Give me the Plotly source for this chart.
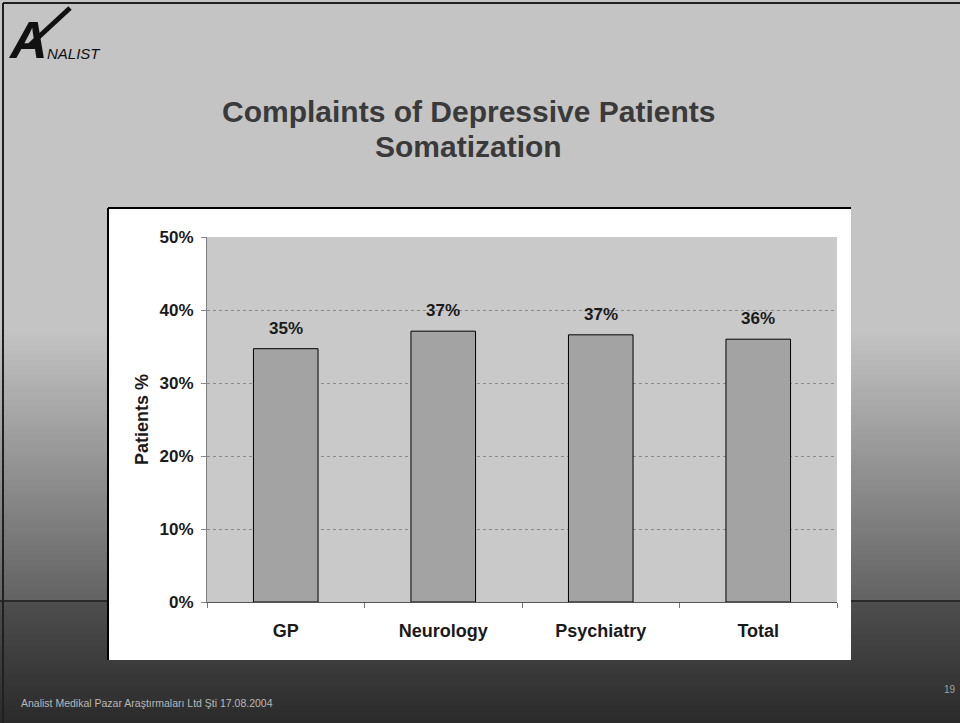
import plotly.graph_objects as go

categories = ["GP", "Neurology", "Psychiatry", "Total"]
patients_pct = [34.7, 37.1, 36.6, 36.0]
y_ticks = [0, 10, 20, 30, 40, 50]
y_tick_labels = ["0%", "10%", "20%", "30%", "40%", "50%"]

title_lines = ["Complaints of Depressive Patients", "Somatization"]
y_title = "Patients %"
footer = "Analist Medikal Pazar Araştırmaları Ltd Şti 17.08.2004"
page_no = "19"

# plot area in pixels
L, R, T, B = 207, 837, 237, 602
W, H = R - L, B - T
FONT = "Arial, Liberation Sans, Helvetica, sans-serif"


def px(x):
    return (x - L) / W


def py(y):
    return (B - y) / H


def grey(v):
    v = int(max(0, min(255, round(v))))
    return f"rgb({v},{v},{v})"


def bg_level(y):
    if y < 330:
        return 196
    if y < 601:
        t = (y - 330) / (601 - 330)
        return 196 + (98 - 196) * t
    t = (y - 601) / (723 - 601)
    return 78 + (42 - 78) * t


shapes = []
step = 5
y0 = 0
while y0 < 723:
    y1 = min(723, y0 + step)
    shapes.append(dict(type="rect", xref="paper", yref="paper", layer="below",
                       x0=px(-5), x1=px(965), y0=py(y1 + 0.5), y1=py(y0),
                       fillcolor=grey(bg_level((y0 + y1) / 2)), line=dict(width=0)))
    y0 = y1

# dark horizontal band line
shapes.append(dict(type="line", xref="paper", yref="paper", layer="below",
                   x0=px(0), x1=px(960), y0=py(601), y1=py(601),
                   line=dict(color="#1e1e1e", width=1.5)))
# slide border (left / top)
shapes.append(dict(type="line", xref="paper", yref="paper", layer="below",
                   x0=px(3), x1=px(3), y0=py(723), y1=py(3),
                   line=dict(color="#202020", width=2)))
shapes.append(dict(type="line", xref="paper", yref="paper", layer="below",
                   x0=px(3), x1=px(960), y0=py(3), y1=py(3),
                   line=dict(color="#202020", width=2)))
# white chart box
shapes.append(dict(type="rect", xref="paper", yref="paper", layer="below",
                   x0=px(108), x1=px(851), y0=py(660), y1=py(208),
                   fillcolor="white", line=dict(width=0)))
shapes.append(dict(type="line", xref="paper", yref="paper", layer="below",
                   x0=px(108), x1=px(108), y0=py(660), y1=py(208),
                   line=dict(color="black", width=2)))
shapes.append(dict(type="line", xref="paper", yref="paper", layer="below",
                   x0=px(108), x1=px(851), y0=py(208), y1=py(208),
                   line=dict(color="black", width=2)))
# plot area background
shapes.append(dict(type="rect", xref="paper", yref="paper", layer="below",
                   x0=0, x1=1, y0=0, y1=1,
                   fillcolor="#c9c9c9", line=dict(width=0)))
# logo slash
shapes.append(dict(type="line", xref="paper", yref="paper", layer="below",
                   x0=px(30), x1=px(70), y0=py(45), y1=py(8),
                   line=dict(color="#111111", width=5)))

fig = go.Figure()
fig.add_trace(go.Bar(
    x=categories, y=patients_pct, width=0.41,
    marker=dict(color="#a3a3a3", line=dict(color="black", width=1)),
    hoverinfo="skip",
))

annotations = []
for c, v in zip(categories, patients_pct):
    annotations.append(dict(x=c, y=v, xref="x", yref="y", text=f"<b>{round(v)}%</b>",
                            showarrow=False, xanchor="center", yanchor="bottom", yshift=9,
                            font=dict(family=FONT, size=17, color="#1a1a1a")))

annotations.append(dict(xref="paper", yref="paper", x=px(142), y=py(420),
                        xanchor="center", yanchor="middle",
                        text=f"<b>{y_title}</b>", textangle=-90, showarrow=False,
                        font=dict(family=FONT, size=18, color="#1a1a1a")))
for i, line in enumerate(title_lines):
    annotations.append(dict(xref="paper", yref="paper", x=px(468), y=py(111 + 36 * i),
                            xanchor="center", yanchor="middle",
                            text=f"<b>{line}</b>", showarrow=False,
                            font=dict(family=FONT, size=30, color="#3a3a3a")))
# logo
annotations.append(dict(xref="paper", yref="paper", x=px(6), y=py(40),
                        xanchor="left", yanchor="middle",
                        text="<b><i>A</i></b>", showarrow=False,
                        font=dict(family=FONT, size=52, color="#111111")))
annotations.append(dict(xref="paper", yref="paper", x=px(45), y=py(53),
                        xanchor="left", yanchor="middle",
                        text="<i>NALIST</i>", showarrow=False,
                        font=dict(family=FONT, size=15, color="#111111")))
annotations.append(dict(xref="paper", yref="paper", x=px(19), y=py(703),
                        xanchor="left", yanchor="middle",
                        text=footer, showarrow=False,
                        font=dict(family=FONT, size=10.5, color="#b8b8b8")))
annotations.append(dict(xref="paper", yref="paper", x=px(958), y=py(689),
                        xanchor="right", yanchor="middle",
                        text=page_no, showarrow=False,
                        font=dict(family=FONT, size=10, color="#a0a0a0")))

fig.update_layout(
    width=960, height=723,
    margin=dict(l=L, r=960 - R, t=T, b=723 - B, autoexpand=False),
    paper_bgcolor="#c4c4c4",
    plot_bgcolor="rgba(0,0,0,0)",
    showlegend=False,
    shapes=shapes,
    annotations=annotations,
    xaxis=dict(
        type="category", showline=True, linecolor="#555555", linewidth=1,
        ticks="outside", tickson="boundaries", ticklen=5, tickcolor="#777777",
        showgrid=False, zeroline=False,
        tickvals=categories, ticktext=[f"<b>{c}</b>" for c in categories],
        tickfont=dict(family=FONT, size=18, color="#1a1a1a"),
        ticklabelstandoff=12,
    ),
    yaxis=dict(
        range=[0, 50], tickvals=y_ticks, ticktext=[f"<b>{t}</b>" for t in y_tick_labels],
        showline=True, linecolor="#808080", linewidth=1,
        ticks="outside", ticklen=5, tickcolor="#888888",
        showgrid=True, gridcolor="#8a8a8a", griddash="dot", gridwidth=1,
        zeroline=False,
        tickfont=dict(family=FONT, size=17, color="#1a1a1a"),
        ticklabelstandoff=4,
    ),
)

fig.write_html("out.html", config={"displayModeBar": False},
               post_script="document.body.style.margin='0';document.body.style.overflow='hidden';")
